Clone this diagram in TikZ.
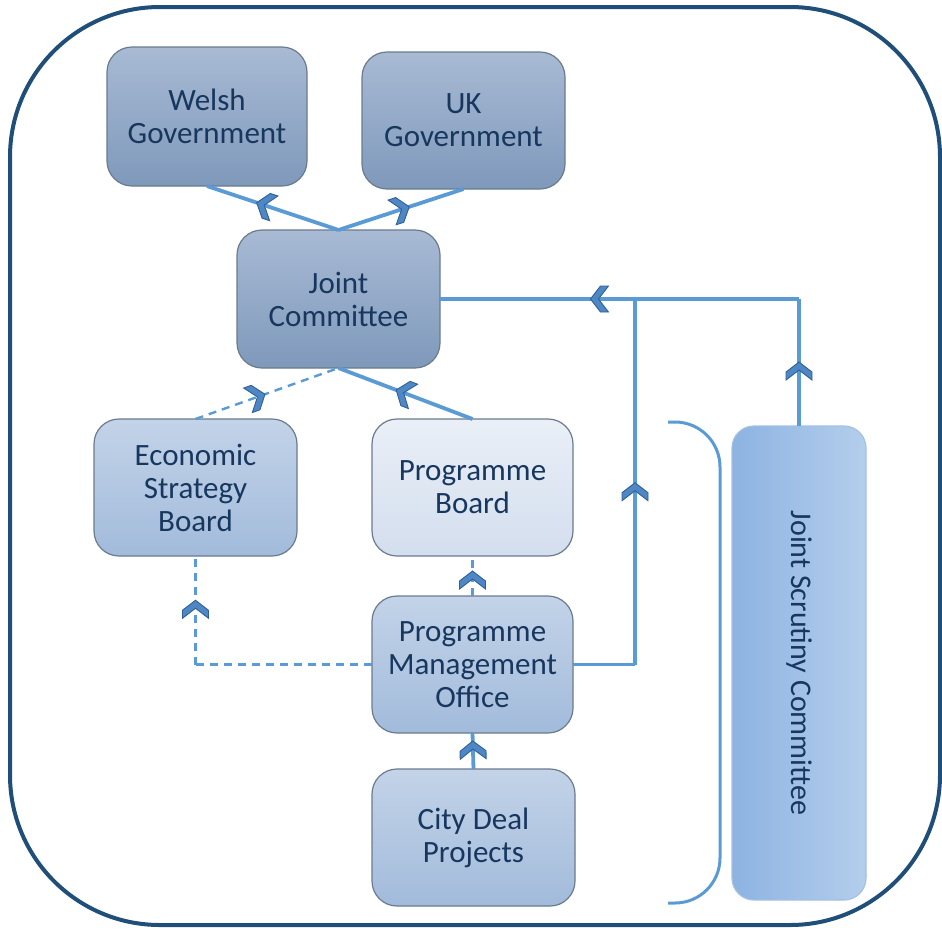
\documentclass[tikz,border=0pt]{standalone}
\usepackage{fontspec}
\setmainfont{Carlito}
\usetikzlibrary{decorations.markings}
\definecolor{frameblue}{HTML}{1F4E79}
\definecolor{conn}{HTML}{5B9BD5}
\definecolor{chevfillc}{HTML}{4F86C4}
\definecolor{chevdrawc}{HTML}{2F6198}
\definecolor{txtblue}{HTML}{17375E}
\definecolor{boxborder}{HTML}{6B7B8E}
\definecolor{dTop}{HTML}{A8BAD4}
\definecolor{dBot}{HTML}{7F99BB}
\definecolor{mTop}{HTML}{C3D3E8}
\definecolor{mBot}{HTML}{A2BBDB}
\definecolor{lTop}{HTML}{EAEFF7}
\definecolor{lBot}{HTML}{D3DEEE}
\definecolor{jLeft}{HTML}{8DB3E2}
\definecolor{jRight}{HTML}{B4CEEC}
\definecolor{jBorder}{HTML}{A3C0E6}
\begin{document}
\begin{tikzpicture}[x=1pt,y=-1pt,
  box/.style={draw=boxborder, line width=1.2pt, rounded corners=25pt, align=center,
    text=txtblue, font=\fontsize{31}{33}\selectfont, inner sep=0pt, outer sep=0pt},
  darkbox/.style={box, top color=dTop, bottom color=dBot},
  midbox/.style={box, top color=mTop, bottom color=mBot},
  lightbox/.style={box, top color=lTop, bottom color=lBot},
  link/.style={draw=conn, line width=3.8pt},
  dlink/.style={draw=conn, line width=2.4pt, dash pattern=on 8pt off 6pt},
  chev/.style={postaction={decorate, decoration={markings,
    mark=at position #1 with {\filldraw[solid, fill=chevfillc, draw=chevdrawc, line width=0.9pt, line join=miter]
      (10,0) -- (0,13) -- (-8,13) -- (2,0) -- (-8,-13) -- (0,-13) -- cycle;}}}}
]
\useasboundingbox (0,0) rectangle (942,930);
\draw[frameblue, line width=4pt, rounded corners=150pt] (10,7) rectangle (940,925);

% nodes
\node[darkbox, minimum width=200pt, minimum height=139pt] (wg) at (207,116.5) {Welsh\\Government};
\node[darkbox, minimum width=203pt, minimum height=137pt] (ukg) at (463.5,120.5) {UK\\Government};
\node[darkbox, minimum width=203pt, minimum height=138pt] (jc) at (338.5,299) {Joint\\Committee};
\node[midbox, minimum width=203pt, minimum height=137pt] (esb) at (195.5,487.5) {Economic\\Strategy\\Board};
\node[lightbox, minimum width=201pt, minimum height=137pt] (pb) at (472.5,487.5) {Programme\\Board};
\node[midbox, minimum width=201pt, minimum height=137pt] (pmo) at (472.5,664.5) {Programme\\Management\\Office};
\node[midbox, minimum width=203pt, minimum height=137pt] (cdp) at (473.5,837.5) {City Deal\\Projects};
\node[draw=jBorder, line width=1.2pt, rounded corners=22pt, left color=jLeft, right color=jRight,
  minimum width=134pt, minimum height=474pt, inner sep=0pt, outer sep=0pt] (jsc) at (799,663) {};
\node[text=txtblue, font=\fontsize{30}{32.5}\selectfont, rotate=-90] (jsct) at (jsc.center) {Joint Scrutiny Committee};

% bracket
\draw[conn, line width=3pt, rounded corners=45pt] (668,422) -- (720,422) -- (720,903) -- (668,903);

% helper coordinates
\coordinate (c1) at (esb.south |- pmo.west);
\coordinate (c2) at (635,664.5);
\coordinate (c3) at (635,299);
\coordinate (c4) at (jsc.north |- jc.east);

% connectors
\draw[link, chev=0.55] (jc.north) -- (wg.south);
\draw[link, chev=0.49] (jc.north) -- (ukg.south);
\draw[dlink, chev=0.42] (esb.north) -- (jc.south);
\draw[link, chev=0.5] (pb.north) -- (jc.south);
\draw[dlink, chev=0.375] (pmo.north) -- (pb.south);
\draw[dlink] (pmo.west) -- (c1);
\draw[dlink, chev=0.5] (c1) -- (esb.south);
\draw[link, chev=0.5] (cdp.north) -- (pmo.south);
\draw[link] (pmo.east) -- (c2);
\draw[link, chev=0.47] (c2) -- (c3);
\draw[link, chev=0.425] (jsc.north) -- (c4);
\draw[link, chev=0.553] (c4) -- (jc.east);
\end{tikzpicture}
\end{document}
